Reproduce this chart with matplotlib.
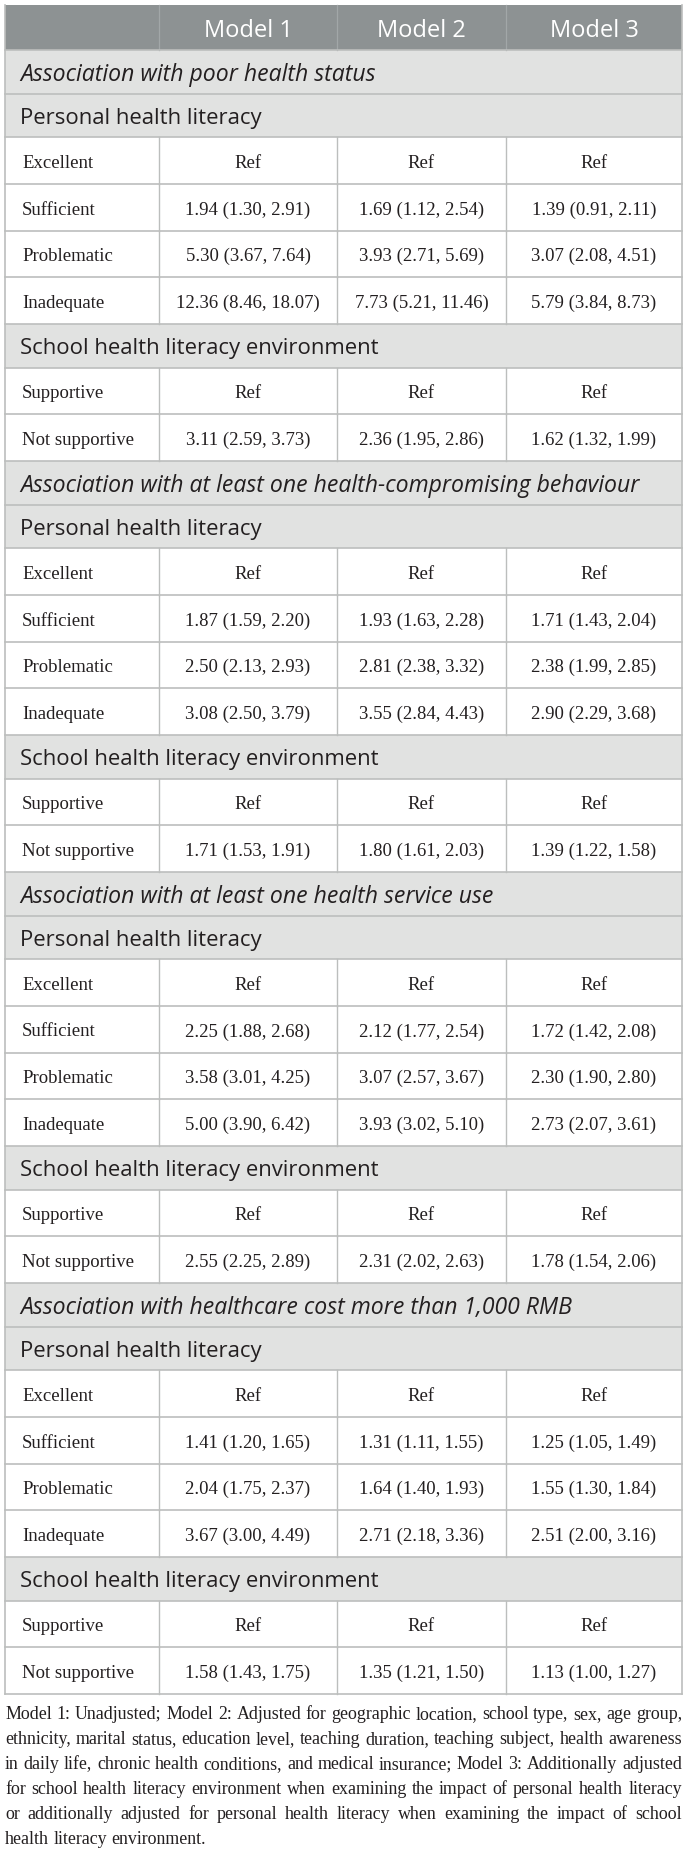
import matplotlib
matplotlib.use("Agg")
import matplotlib.pyplot as plt
from matplotlib.patches import Rectangle

# ---- table content ----
models = ["Model 1", "Model 2", "Model 3"]
outcomes = [
    "Association with poor health status",
    "Association with at least one health-compromising behaviour",
    "Association with at least one health service use",
    "Association with healthcare cost more than 1,000 RMB",
]
personal_group = "Personal health literacy"
school_group = "School health literacy environment"
personal_levels = ["Excellent", "Sufficient", "Problematic", "Inadequate"]
school_levels = ["Supportive", "Not supportive"]

# odds ratio (lower, upper) for Model 1..3, one row per non-reference level
poor_health_personal = [
    [(1.94, 1.30, 2.91), (1.69, 1.12, 2.54), (1.39, 0.91, 2.11)],
    [(5.30, 3.67, 7.64), (3.93, 2.71, 5.69), (3.07, 2.08, 4.51)],
    [(12.36, 8.46, 18.07), (7.73, 5.21, 11.46), (5.79, 3.84, 8.73)],
]
poor_health_school = [
    [(3.11, 2.59, 3.73), (2.36, 1.95, 2.86), (1.62, 1.32, 1.99)],
]
behaviour_personal = [
    [(1.87, 1.59, 2.20), (1.93, 1.63, 2.28), (1.71, 1.43, 2.04)],
    [(2.50, 2.13, 2.93), (2.81, 2.38, 3.32), (2.38, 1.99, 2.85)],
    [(3.08, 2.50, 3.79), (3.55, 2.84, 4.43), (2.90, 2.29, 3.68)],
]
behaviour_school = [
    [(1.71, 1.53, 1.91), (1.80, 1.61, 2.03), (1.39, 1.22, 1.58)],
]
service_personal = [
    [(2.25, 1.88, 2.68), (2.12, 1.77, 2.54), (1.72, 1.42, 2.08)],
    [(3.58, 3.01, 4.25), (3.07, 2.57, 3.67), (2.30, 1.90, 2.80)],
    [(5.00, 3.90, 6.42), (3.93, 3.02, 5.10), (2.73, 2.07, 3.61)],
]
service_school = [
    [(2.55, 2.25, 2.89), (2.31, 2.02, 2.63), (1.78, 1.54, 2.06)],
]
cost_personal = [
    [(1.41, 1.20, 1.65), (1.31, 1.11, 1.55), (1.25, 1.05, 1.49)],
    [(2.04, 1.75, 2.37), (1.64, 1.40, 1.93), (1.55, 1.30, 1.84)],
    [(3.67, 3.00, 4.49), (2.71, 2.18, 3.36), (2.51, 2.00, 3.16)],
]
cost_school = [
    [(1.58, 1.43, 1.75), (1.35, 1.21, 1.50), (1.13, 1.00, 1.27)],
]

personal_results = [poor_health_personal, behaviour_personal, service_personal, cost_personal]
school_results = [poor_health_school, behaviour_school, service_school, cost_school]

footnote_lines = [
    "Model 1: Unadjusted; Model 2: Adjusted for geographic location, school type, sex, age group,",
    "ethnicity, marital status, education level, teaching duration, teaching subject, health awareness",
    "in daily life, chronic health conditions, and medical insurance; Model 3: Additionally adjusted",
    "for school health literacy environment when examining the impact of personal health literacy",
    "or additionally adjusted for personal health literacy when examining the impact of school",
    "health literacy environment.",
]


def fmt(cell):
    return "%.2f (%.2f, %.2f)" % cell


# ---- build the row list ----
rows = [("header", "", models)]
for outcome, pers, sch in zip(outcomes, personal_results, school_results):
    rows.append(("outcome", outcome, None))
    rows.append(("group", personal_group, None))
    rows.append(("data", personal_levels[0], ["Ref"] * 3))
    for level, vals in zip(personal_levels[1:], pers):
        rows.append(("data", level, [fmt(v) for v in vals]))
    rows.append(("group", school_group, None))
    rows.append(("data", school_levels[0], ["Ref"] * 3))
    for level, vals in zip(school_levels[1:], sch):
        rows.append(("data", level, [fmt(v) for v in vals]))

# ---- layout (pixels) ----
W, H = 686, 1854
left, right, top = 5, 682, 5
col_edges = [left, 159, 337, 506, right]
row_h = {"header": 45, "outcome": 43.5, "group": 43.5, "data": 46.75}

header_bg = "#8d9293"
section_bg = "#e1e2e1"
line_col = "#bcbebd"
text_col = "#231f20"
sans = "Open Sans"
serif = "Liberation Serif"
fs_head, fs_outcome, fs_group, fs_data = 17, 16.6, 15.9, 13.5


def cap_px(fs):
    # half of an approximate cap height, in pixels, to centre text on its caps
    return 0.68 * fs / 0.72 / 2


fig = plt.figure(figsize=(W / 100, H / 100), dpi=100)
ax = fig.add_axes([0, 0, 1, 1])
ax.set_xlim(0, W)
ax.set_ylim(H, 0)
ax.axis("off")

y = top
for kind, label, vals in rows:
    h = row_h[kind]
    yc = y + h / 2
    if kind == "header":
        ax.add_patch(Rectangle((left, y), right - left, h, color=header_bg, lw=0))
        for x in col_edges[1:-1]:
            ax.plot([x, x], [y, y + h], color="#a2a7a8", lw=0.9)
        for i, m in enumerate(vals):
            xc = (col_edges[i + 1] + col_edges[i + 2]) / 2
            ax.text(xc, yc + cap_px(fs_head) + 1, m, ha="center", va="baseline",
                    family=sans, fontsize=fs_head, color="white")
    elif kind in ("outcome", "group"):
        fs = fs_outcome if kind == "outcome" else fs_group
        ax.add_patch(Rectangle((left, y), right - left, h, color=section_bg, lw=0))
        ax.text(20, yc + cap_px(fs) + 1, label, ha="left", va="baseline", family=sans,
                fontsize=fs, color=text_col,
                style="italic" if kind == "outcome" else "normal")
    else:
        for x in col_edges[1:-1]:
            ax.plot([x, x], [y, y + h], color=line_col, lw=1.0)
        yb = yc + cap_px(fs_data) + 1
        ax.text(22, yb, label, ha="left", va="baseline", family=serif,
                fontsize=fs_data, color=text_col)
        for i, v in enumerate(vals):
            xc = (col_edges[i + 1] + col_edges[i + 2]) / 2
            ax.text(xc, yb, v, ha="center", va="baseline", family=serif,
                    fontsize=fs_data, color=text_col)
    if kind != "header":
        ax.plot([left, right], [y, y], color=line_col, lw=1.2)
    y += h
bottom = y
ax.plot([left, right], [bottom, bottom], color=line_col, lw=1.2)
ax.plot([left, left], [top, bottom], color=line_col, lw=1.2)
ax.plot([right, right], [top, bottom], color=line_col, lw=1.2)

# ---- justified footnote ----
renderer = fig.canvas.get_renderer()


def text_width(s, fs):
    t = ax.text(0, 0, s, family=serif, fontsize=fs)
    wd = t.get_window_extent(renderer).width
    t.remove()
    return wd


base_fs = 12
widest = max(text_width(s, base_fs) for s in footnote_lines[:-1])
fs_note = base_fs * (right - left - 2) / widest

line_y = bottom + 19
for li, line in enumerate(footnote_lines):
    words = line.split()
    widths = [text_width(w, fs_note) for w in words]
    if li == len(footnote_lines) - 1:
        gap = text_width("a b", fs_note) - text_width("ab", fs_note)
    else:
        gap = (right - left - sum(widths)) / (len(words) - 1)
    x = left
    for w, wd in zip(words, widths):
        ax.text(x, line_y + cap_px(fs_note), w, ha="left", va="baseline",
                family=serif, fontsize=fs_note, color=text_col)
        x += wd + gap
    line_y += 25

fig.savefig("out.png", dpi=100)
